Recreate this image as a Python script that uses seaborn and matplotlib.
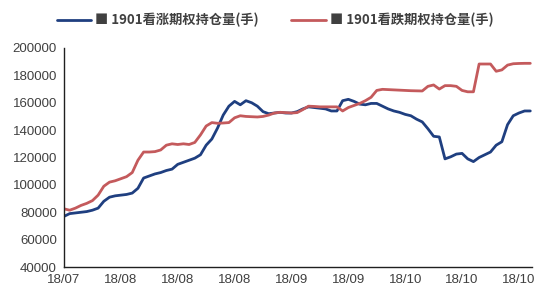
import matplotlib
matplotlib.use("Agg")
import matplotlib.pyplot as plt
import seaborn as sns
import pandas as pd
import numpy as np

sns.set_theme(style="white")
plt.rcParams['font.family'] = ['Liberation Sans', 'Noto Sans CJK SC', 'DejaVu Sans']

tick_labels = ["18/07", "18/08", "18/08", "18/08", "18/09", "18/09", "18/10", "18/10", "18/10"]
series_names = ["1901看涨期权持仓量(手)", "1901看跌期权持仓量(手)"]

call_oi = [77000, 79000, 79500, 80000, 80500, 81500, 83000, 88000, 91000, 92000,
           92500, 93000, 94000, 97500, 105000, 106500, 108000, 109000, 110500, 111500,
           115000, 116500, 118000, 119500, 122000, 129000, 133500, 141500, 151000, 157500,
           161000, 158500, 161500, 160000, 157500, 153500, 152000, 152500, 153000, 152500,
           152500, 153500, 155500, 157000, 156500, 156000, 155500, 154000, 154000, 161500,
           162500, 161000, 159000, 158500, 159500, 159500, 157500, 155500, 154000, 153000,
           151500, 150500, 148000, 146000, 141000, 135500, 135000, 119000, 120500, 122500,
           123000, 119000, 117000, 120000, 122000, 124000, 129000, 131500, 144000, 150500,
           152500, 154000, 154000]

put_oi = [82500, 81500, 83000, 85000, 86500, 88500, 92500, 99000, 102000, 103000,
          104500, 106000, 109000, 118000, 124000, 124000, 124300, 125500, 129000, 130000,
          129500, 130000, 129500, 131000, 136500, 143000, 145500, 145000, 145200, 145500,
          149000, 150500, 150000, 149800, 149600, 150000, 151000, 152500, 153000, 152800,
          152500, 152800, 155000, 157500, 157300, 157000, 157000, 157000, 157000, 154000,
          156500, 158000, 159500, 161500, 164000, 169000, 169800, 169600, 169400, 169200,
          169000, 168800, 168700, 168600, 172000, 173000, 170000, 172500, 172500, 172000,
          169000, 168000, 168000, 188300, 188300, 188300, 183000, 184000, 187500, 188500,
          188700, 188800, 188800]

n = len(call_oi)
df = pd.DataFrame({
    "idx": list(range(n)) * 2,
    "value": call_oi + put_oi,
    "series": [series_names[0]] * n + [series_names[1]] * n,
})

colors = {series_names[0]: "#1F3F80", series_names[1]: "#C45A5C"}

fig = plt.figure(figsize=(5.5, 3.0), dpi=100)
ax = fig.add_axes([64/550, 1 - 267/300, (532 - 64)/550, (267 - 48)/300])
sns.lineplot(data=df, x="idx", y="value", hue="series", palette=colors,
             linewidth=2.0, ax=ax, legend=False)

ax.set_xlim(0, 82.3)
ax.set_ylim(40000, 200000)
ax.set_yticks(range(40000, 200001, 20000))
ax.set_yticklabels([str(v) for v in range(40000, 200001, 20000)])
ax.set_xticks(range(0, 81, 10))
ax.set_xticklabels(tick_labels)
ax.set_xlabel("")
ax.set_ylabel("")
ax.tick_params(axis="both", length=0, labelsize=9.5, colors="#404040", pad=5)
for s in ["top", "right"]:
    ax.spines[s].set_visible(False)
for s in ["left", "bottom"]:
    ax.spines[s].set_visible(True)
    ax.spines[s].set_color("#202020")
    ax.spines[s].set_linewidth(1.0)
ax.grid(False)

from matplotlib.lines import Line2D
handles = [Line2D([0], [0], color=colors[s], lw=2.0) for s in series_names]
labels = ["■ " + s for s in series_names]
fig.legend(handles, labels, loc="center", bbox_to_anchor=(0.5, 1 - 20/300), ncol=2,
           frameon=False, handlelength=2.6, handletextpad=0.3, columnspacing=2.5,
           prop={"family": ["Noto Sans CJK SC", "DejaVu Sans"], "size": 9.5, "weight": "bold"},
           labelcolor="#404040")

fig.savefig("out.png", dpi=100)
